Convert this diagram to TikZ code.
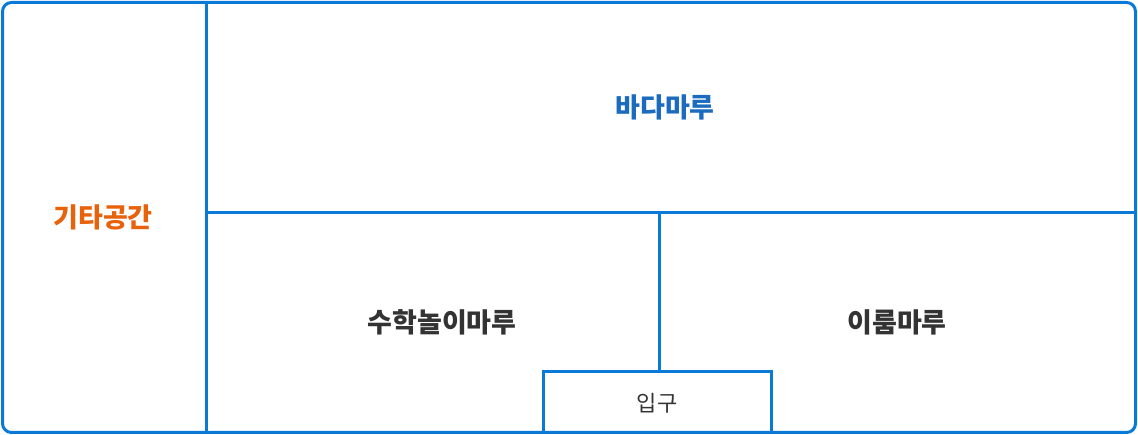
\documentclass[tikz,border=0pt]{standalone}
\usepackage{fontspec}
\newfontfamily\kr{Noto Sans CJK KR}
\definecolor{lineblue}{HTML}{0A7AD6}
\definecolor{txtblue}{HTML}{1B6CBE}
\definecolor{txtorange}{HTML}{E8620C}
\definecolor{txtgray}{HTML}{333333}
\tikzset{
  wall/.style={draw=lineblue, line width=3pt},
  room/.style={font=\kr\bfseries\fontsize{27}{31}\selectfont, text=txtgray, inner sep=0pt},
}
\begin{document}
\begin{tikzpicture}[x=1pt,y=-1pt]
\useasboundingbox (0,0) rectangle (1138,435);
\draw[wall, rounded corners=9pt] (2.5,2.5) rectangle (1135.5,432.5);
\coordinate (vt) at (206,2.5);
\coordinate (vb) at (206,432.5);
\coordinate (hl) at (206,213);
\coordinate (hr) at (1135.5,213);
\coordinate (mt) at (659,213);
\coordinate (mb) at (659,372);
\draw[wall] (vt) -- (vb);
\draw[wall] (hl) -- (hr);
\draw[wall] (mt) -- (mb);
\draw[wall] (543,432.5) |- (771,372) -- (771,432.5);
\node[room, text=txtorange] (etc) at (103,217) {기타공간};
\node[room, text=txtblue] (bada) at (665,107) {바다마루};
\node[room] (suhak) at (442,322) {수학놀이마루};
\node[room] (irum) at (897,322) {이룸마루};
\node[inner sep=0pt, text=txtgray, font=\kr\fontsize{22}{26}\selectfont] (ipgu) at (657,403) {입구};
\end{tikzpicture}
\end{document}
